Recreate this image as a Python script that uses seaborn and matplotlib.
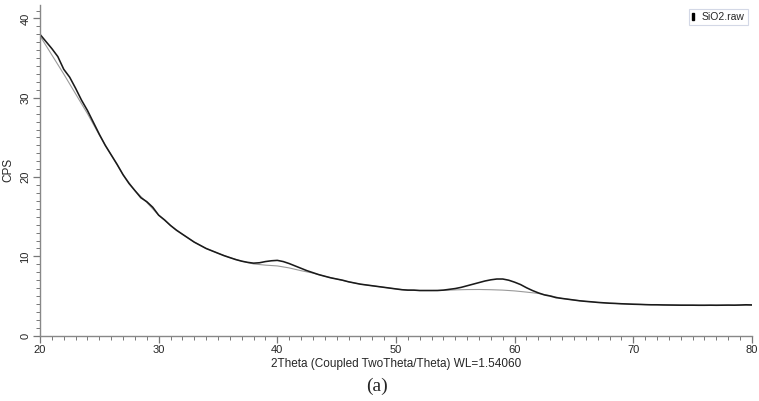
import numpy as np
import pandas as pd
import matplotlib
matplotlib.use("Agg")
import matplotlib.pyplot as plt
import matplotlib.ticker as mticker
from matplotlib.patches import Patch
import seaborn as sns

two_theta = [20.0 + 0.5 * i for i in range(121)]
cps = [38.0, 37.1, 36.2, 35.2, 33.6, 32.6, 31.2, 29.7, 28.4, 26.9,
       25.4, 24.0, 22.8, 21.6, 20.3, 19.2, 18.3, 17.4, 16.9, 16.2,
       15.2, 14.6, 13.9, 13.3, 12.8, 12.3, 11.8, 11.4, 11.0, 10.7,
       10.4, 10.1, 9.85, 9.6, 9.4, 9.25, 9.15, 9.2, 9.35, 9.45,
       9.5, 9.35, 9.1, 8.8, 8.5, 8.2, 7.95, 7.7, 7.5, 7.3,
       7.15, 7.0, 6.8, 6.65, 6.5, 6.4, 6.3, 6.2, 6.1, 6.0,
       5.9, 5.8, 5.75, 5.75, 5.7, 5.7, 5.7, 5.7, 5.75, 5.85,
       5.95, 6.1, 6.3, 6.5, 6.7, 6.9, 7.05, 7.15, 7.15, 7.0,
       6.75, 6.45, 6.05, 5.7, 5.4, 5.15, 5.0, 4.8, 4.7, 4.6,
       4.5, 4.4, 4.33, 4.27, 4.2, 4.15, 4.1, 4.07, 4.03, 4.0,
       3.97, 3.95, 3.92, 3.9, 3.9, 3.88, 3.87, 3.86, 3.85, 3.85,
       3.85, 3.84, 3.84, 3.85, 3.84, 3.85, 3.86, 3.85, 3.87, 3.9,
       3.88]

# fitted background (thin grey curve)
bg_theta = [20, 21, 22, 23, 24, 25, 26, 27, 28, 29, 30, 31, 32, 33, 34, 35,
            36, 37, 38, 39, 40, 41, 42, 43, 44, 45, 46, 47, 48, 49, 50, 51,
            52, 53, 54, 55, 56, 57, 58, 59, 60, 61, 62, 63, 64, 65, 66, 67,
            68, 69, 70, 72, 74, 76, 78, 80]
bg_cps = [37.8, 35.4, 33.0, 30.5, 28.0, 25.3, 22.8, 20.3, 18.3, 16.8, 15.2,
          13.9, 12.8, 11.8, 11.0, 10.4, 9.85, 9.4, 9.05, 8.9, 8.8, 8.55,
          8.2, 7.9, 7.5, 7.15, 6.8, 6.5, 6.3, 6.1, 5.9, 5.75, 5.7, 5.7,
          5.72, 5.78, 5.82, 5.83, 5.8, 5.75, 5.65, 5.5, 5.33, 5.05, 4.7,
          4.5, 4.33, 4.2, 4.1, 4.03, 3.97, 3.9, 3.86, 3.84, 3.85, 3.86]

raw = pd.DataFrame({"theta": two_theta, "cps": cps})
bg = pd.DataFrame({"theta": bg_theta, "cps": bg_cps})

sns.set_style("ticks")
plt.rcParams["font.family"] = ["Liberation Sans", "DejaVu Sans"]

fig = plt.figure(figsize=(7.59, 4.01), dpi=100)
ax = fig.add_axes([0.0527, 0.1628, 0.9380, 0.8247])

sns.lineplot(data=bg, x="theta", y="cps", color="#9a9a9a", linewidth=0.8, ax=ax)
sns.lineplot(data=raw, x="theta", y="cps", color="#1a1a1a", linewidth=1.15, ax=ax)

ax.set_xlim(20, 80)
ax.set_ylim(0, 41.7)
ax.xaxis.set_major_locator(mticker.MultipleLocator(10))
ax.xaxis.set_minor_locator(mticker.MultipleLocator(1))
ax.yaxis.set_major_locator(mticker.MultipleLocator(10))
ax.yaxis.set_minor_locator(mticker.MultipleLocator(1))
ax.tick_params(which="major", length=5, width=0.9, color="#777777",
               labelsize=8, pad=2)
ax.tick_params(which="minor", length=3, width=0.7, color="#777777")
for lab in ax.get_yticklabels():
    lab.set_rotation(90)
    lab.set_va("center")
xlabs = ax.get_xticklabels()
xlabs[0].set_ha("left")
xlabs[-1].set_ha("right")

for side in ["top", "right"]:
    ax.spines[side].set_visible(False)
for side in ["left", "bottom"]:
    ax.spines[side].set_color("#888888")
    ax.spines[side].set_linewidth(1.0)

ax.set_xlabel("2Theta (Coupled TwoTheta/Theta) WL=1.54060", fontsize=8.5,
              labelpad=2)
ax.set_ylabel("CPS", fontsize=8.5, labelpad=4)

handle = Patch(facecolor="black", edgecolor="black")
leg = ax.legend([handle], ["SiO2.raw"], loc="upper right",
                bbox_to_anchor=(0.9975, 0.995), fontsize=7.5, frameon=True,
                fancybox=False, handlelength=0.2, handleheight=0.6,
                handletextpad=0.8, borderpad=0.3, borderaxespad=0.2)
leg.get_frame().set_edgecolor("#c8cfe0")
leg.get_frame().set_linewidth(0.8)

fig.text(0.497, 0.036, "(a)", fontsize=14, ha="center", va="center",
         family=["Liberation Serif", "DejaVu Serif"])

fig.savefig("out.png", dpi=100)
